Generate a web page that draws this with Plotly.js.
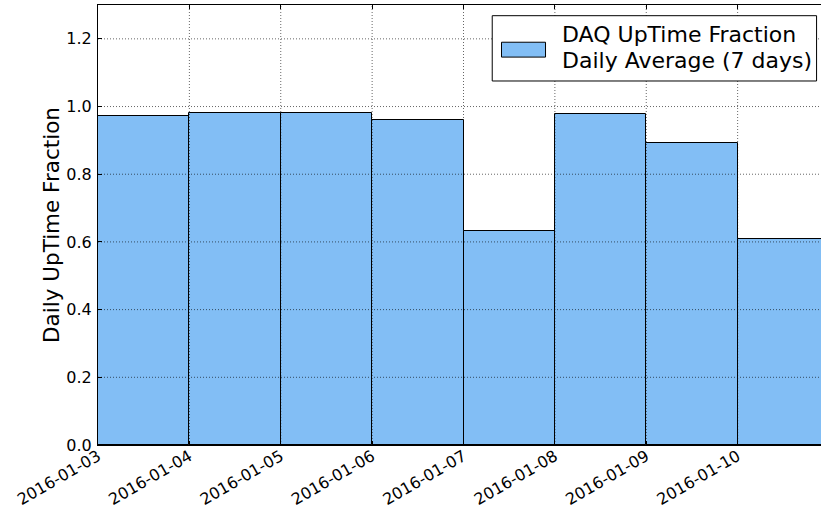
<!DOCTYPE html>
<html>
<head>
<meta charset="utf-8">
<script src="https://cdn.plot.ly/plotly-3.0.1.min.js"></script>
<style>
html, body { margin: 0; padding: 0; overflow: hidden; background: #fff; }
#chart { width: 840px; height: 509px; }
</style>
</head>
<body>
<div id="chart"></div>
<script>
var days = ["2016-01-03", "2016-01-04", "2016-01-05", "2016-01-06", "2016-01-07", "2016-01-08", "2016-01-09", "2016-01-10"];
var uptime = [0.971, 0.980, 0.980, 0.960, 0.632, 0.978, 0.892, 0.608];
var xTicks = ["2016-01-03", "2016-01-04", "2016-01-05", "2016-01-06", "2016-01-07", "2016-01-08", "2016-01-09", "2016-01-10"];
var yTicks = [0.0, 0.2, 0.4, 0.6, 0.8, 1.0, 1.2];
var yTickText = ["0.0", "0.2", "0.4", "0.6", "0.8", "1.0", "1.2"];
var seriesNameLines = ["DAQ UpTime Fraction", "Daily Average (7 days)"];
var DAY_MS = 86400000;

var font = "DejaVu Sans, sans-serif";
var barColor = "#82bef5";

var trace = {
  type: "bar",
  x: days,
  y: uptime,
  offset: 0,
  width: days.map(function () { return DAY_MS; }),
  name: seriesNameLines.join(" "),
  marker: { color: barColor, line: { color: "#000000", width: 1 } },
  showlegend: false,
  hoverinfo: "x+y"
};

var gridLine = { color: "rgba(0,0,0,0.6)", width: 1, dash: "1px,2px" };
var shapes = [];
yTicks.forEach(function (v) {
  if (v === 0) return;
  shapes.push({ type: "line", layer: "above", xref: "paper", yref: "y", x0: 0, x1: 1, y0: v, y1: v, line: gridLine });
});
xTicks.forEach(function (d, i) {
  if (i === 0) return;
  shapes.push({ type: "line", layer: "above", xref: "x", yref: "paper", x0: d, x1: d, y0: 0, y1: 1, line: gridLine });
});

// legend box (drawn manually to reproduce the wide patch)
shapes.push({ type: "rect", layer: "above", xref: "paper", yref: "paper",
  x0: 0.5393, x1: 0.983, y0: 0.8273, y1: 0.9757,
  fillcolor: "#ffffff", line: { color: "#000000", width: 1 } });
shapes.push({ type: "rect", layer: "above", xref: "paper", yref: "paper",
  x0: 0.5520, x1: 0.6122, y0: 0.8816, y1: 0.9154,
  fillcolor: barColor, line: { color: "#000000", width: 1 } });

var legendLineY = [0.932, 0.874];
var annotations = seriesNameLines.map(function (t, i) {
  return {
    xref: "paper", yref: "paper",
    x: 0.6317, y: legendLineY[i],
    xanchor: "left", yanchor: "middle",
    align: "left",
    showarrow: false,
    text: t,
    font: { family: font, size: 22, color: "#000" }
  };
});

var layout = {
  width: 840,
  height: 509,
  margin: { l: 98, r: 10.6, t: 5, b: 64 },
  paper_bgcolor: "#ffffff",
  plot_bgcolor: "#ffffff",
  font: { family: font, color: "#000000", size: 16 },
  bargap: 0,
  showlegend: false,
  xaxis: {
    type: "date",
    range: ["2016-01-03", "2016-01-11"],
    tickvals: xTicks,
    ticktext: xTicks,
    tickangle: -30,
    tickfont: { family: font, size: 16, color: "#000" },
    ticklabelstandoff: -5,
    showgrid: false,
    zeroline: false,
    showline: true,
    linecolor: "#000",
    linewidth: 1,
    mirror: "ticks",
    ticks: "inside",
    ticklen: 4,
    tickcolor: "#000"
  },
  yaxis: {
    range: [0, 1.3],
    tickvals: yTicks,
    ticktext: yTickText,
    tickfont: { family: font, size: 16, color: "#000" },
    showgrid: false,
    zeroline: false,
    showline: true,
    linecolor: "#000",
    linewidth: 1,
    mirror: "ticks",
    ticks: "inside",
    ticklen: 4,
    tickcolor: "#000",
    ticklabelstandoff: 2,
    title: { text: "Daily UpTime Fraction", font: { family: font, size: 21.5, color: "#000" }, standoff: 0 }
  },
  annotations: annotations,
  shapes: shapes
};

Plotly.newPlot("chart", [trace], layout, { displayModeBar: false });
</script>
</body>
</html>
